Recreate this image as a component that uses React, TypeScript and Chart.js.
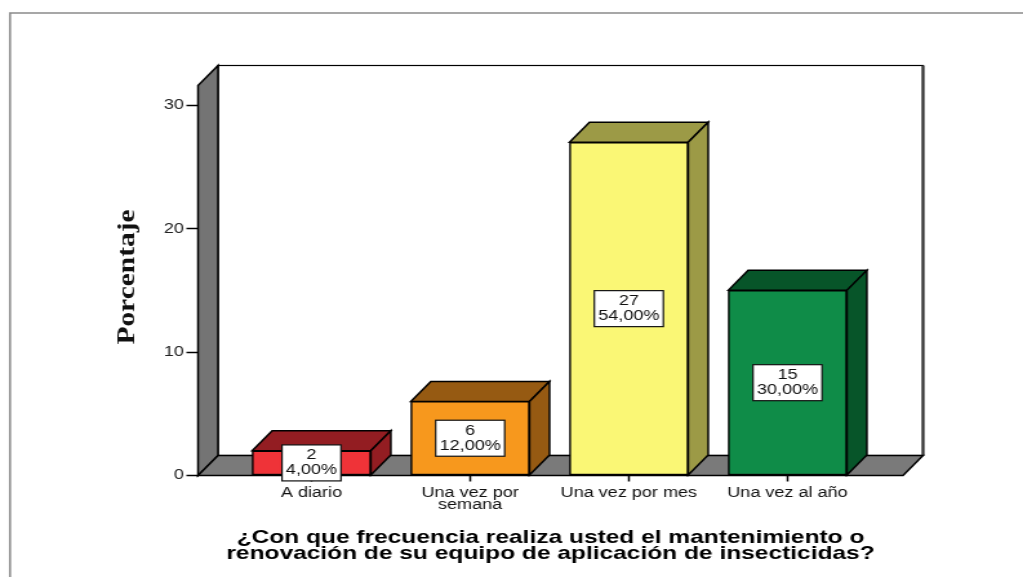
import React, { useEffect, useRef } from "react";
import { Chart, registerables } from "chart.js";

Chart.register(...registerables);

// ---- data ----
const CATEGORY_LABELS: (string | string[])[] = [
  "A diario",
  ["Una vez por", "semana"],
  "Una vez por mes",
  "Una vez al año",
];
const COUNTS: number[] = [2, 6, 27, 15];
const Y_TICKS: number[] = [0, 10, 20, 30];
const Y_TITLE = "Porcentaje";
const X_TITLE: string[] = [
  "¿Con que frecuencia realiza usted el mantenimiento o",
  "renovación de su equipo de aplicación de insecticidas?",
];

// ---- styles ----
const FRONT_COLORS = ["#ef3338", "#f7981d", "#faf775", "#0f8c48"];
const DARK_COLORS = ["#931d22", "#965a12", "#9c9a46", "#075529"];

const S = 1.29; // horizontal stretch of the picture
const W_SCREEN = 1023;
const H = 577;
const LW = Math.round(W_SCREEN / S);
const DX = 20 / S;
const DY = 20;
const Y_MAX = 31.6;

const TOTAL = COUNTS.reduce((a, b) => a + b, 0);
const pctText = (v: number) => ((v / TOTAL) * 100).toFixed(2).replace(".", ",") + "%";

const poly = (ctx: CanvasRenderingContext2D, pts: number[][], fill: string, stroke = "#000", lw = 1.5) => {
  ctx.beginPath();
  ctx.moveTo(pts[0][0], pts[0][1]);
  for (let i = 1; i < pts.length; i++) ctx.lineTo(pts[i][0], pts[i][1]);
  ctx.closePath();
  ctx.fillStyle = fill;
  ctx.fill();
  ctx.lineWidth = lw;
  ctx.strokeStyle = stroke;
  ctx.lineJoin = "miter";
  ctx.stroke();
};

const threeD = {
  id: "threeD",
  beforeDraw(chart: any) {
    const ctx = chart.ctx as CanvasRenderingContext2D;
    ctx.save();
    ctx.fillStyle = "#fff";
    ctx.fillRect(0, 0, chart.width, chart.height);
    ctx.strokeStyle = "#8a8a8a";
    ctx.lineWidth = 1.6;
    ctx.beginPath();
    ctx.moveTo(10 / S, H + 2);
    ctx.lineTo(10 / S, 13);
    ctx.lineTo(chart.width + 2, 13);
    ctx.stroke();
    ctx.restore();
  },
  beforeDatasetsDraw(chart: any) {
    const ctx = chart.ctx as CanvasRenderingContext2D;
    const { left, right, top } = chart.chartArea;
    const y0 = chart.scales.y.getPixelForValue(0);
    ctx.save();
    // back wall
    ctx.fillStyle = "#fff";
    ctx.fillRect(left + DX, top - DY, right - left, y0 - top);
    ctx.strokeStyle = "#000";
    ctx.lineWidth = 1.2;
    ctx.strokeRect(left + DX, top - DY, right - left, y0 - top);
    ctx.strokeStyle = "#333";
    ctx.lineWidth = 2.2;
    ctx.beginPath();
    ctx.moveTo(right + DX, top - DY);
    ctx.lineTo(right + DX, y0 - DY);
    ctx.stroke();
    // left wall
    poly(ctx, [[left, top], [left + DX, top - DY], [left + DX, y0 - DY], [left, y0]], "#747474");
    // floor
    poly(ctx, [[left, y0], [right, y0], [right + DX, y0 - DY], [left + DX, y0 - DY]], "#7a7a7a");
    // bar tops and sides
    const meta = chart.getDatasetMeta(0);
    meta.data.forEach((el: any, i: number) => {
      const { x, y, base, width } = el.getProps(["x", "y", "base", "width"], true);
      const l = x - width / 2;
      const r = x + width / 2;
      poly(ctx, [[l, y], [l + DX, y - DY], [r + DX, y - DY], [r, y]], DARK_COLORS[i]);
      poly(ctx, [[r, y], [r + DX, y - DY], [r + DX, base - DY], [r, base]], DARK_COLORS[i]);
    });
    ctx.restore();
  },
  afterDatasetsDraw(chart: any) {
    const ctx = chart.ctx as CanvasRenderingContext2D;
    const meta = chart.getDatasetMeta(0);
    ctx.save();
    ctx.font = '14px "Liberation Sans", Arial, sans-serif';
    ctx.textAlign = "center";
    ctx.textBaseline = "middle";
    meta.data.forEach((el: any, i: number) => {
      const { x, y, base } = el.getProps(["x", "y", "base"], true);
      const lines = [String(COUNTS[i]), pctText(COUNTS[i])];
      const tw = Math.max(...lines.map((t) => ctx.measureText(t).width));
      const bw = tw + 6;
      const bh = 36;
      const cy = (y + base) / 2;
      ctx.fillStyle = "#fff";
      ctx.fillRect(x - bw / 2, cy - bh / 2, bw, bh);
      ctx.strokeStyle = "#111";
      ctx.lineWidth = 1.2;
      ctx.strokeRect(x - bw / 2, cy - bh / 2, bw, bh);
      ctx.fillStyle = "#111";
      ctx.fillText(lines[0], x, cy - 7.5);
      ctx.fillText(lines[1], x, cy + 7.5);
    });
    // y axis title
    ctx.translate(99, 277);
    ctx.rotate(-Math.PI / 2);
    ctx.scale(1.55, 1);
    ctx.font = 'bold 19px "Liberation Serif", "Times New Roman", serif';
    ctx.fillStyle = "#111";
    ctx.fillText(Y_TITLE, 0, 0);
    ctx.restore();
  },
};

export default function App() {
  const ref = useRef<HTMLCanvasElement | null>(null);
  useEffect(() => {
    if (!ref.current) return;
    const chart = new Chart(ref.current, {
      type: "bar",
      data: {
        datasets: [
          {
            data: COUNTS.map((v, i) => ({ x: i, y: v })),
            backgroundColor: FRONT_COLORS,
            borderColor: "#000",
            borderWidth: 1.5,
            borderSkipped: false,
            barThickness: 92,
          },
        ],
      },
      options: {
        animation: false,
        responsive: false,
        devicePixelRatio: 1,
        layout: { padding: { left: 0, right: LW - 700, top: 85.5, bottom: 0 } },
        plugins: { legend: { display: false }, tooltip: { enabled: false }, title: { display: false } },
        scales: {
          x: {
            type: "linear",
            min: -0.715,
            max: 3.728,
            offset: false,
            grid: { display: true, drawOnChartArea: false, offset: false, tickLength: 6, tickColor: "#000", tickWidth: 1.5 },
            border: { display: false },
            afterBuildTicks: (scale: any) => {
              scale.ticks = CATEGORY_LABELS.map((_, i) => ({ value: i }));
            },
            afterFit: (scale: any) => {
              scale.height = H - 475.5;
            },
            ticks: {
              autoSkip: false,
              maxRotation: 0,
              minRotation: 0,
              padding: 5,
              color: "#111",
              font: { family: '"Liberation Sans", Arial, sans-serif', size: 14, lineHeight: 0.88 },
              callback: (v: any) => CATEGORY_LABELS[Math.round(Number(v))] as any,
            },
            title: {
              display: true,
              text: X_TITLE,
              color: "#000",
              font: { family: '"Liberation Sans", Arial, sans-serif', size: 19, weight: "bold", lineHeight: 16 / 19 },
              padding: { top: 0, bottom: 15 },
            },
          },
          y: {
            type: "linear",
            min: 0,
            max: Y_MAX,
            grid: { display: true, drawOnChartArea: false, tickLength: 9, tickColor: "#000", tickWidth: 1.5 },
            border: { display: false },
            afterBuildTicks: (scale: any) => {
              scale.ticks = Y_TICKS.map((v) => ({ value: v }));
            },
            afterFit: (scale: any) => {
              scale.width = 153.5;
            },
            ticks: {
              padding: 2,
              color: "#222",
              font: { family: '"Liberation Sans", Arial, sans-serif', size: 14 },
            },
          },
        },
      },
      plugins: [threeD],
    } as any);
    return () => chart.destroy();
  }, []);
  return (
    <div style={{ position: "fixed", left: 0, top: 0, width: W_SCREEN, height: H, background: "#fff" }}>
      <canvas ref={ref} width={LW} height={H} style={{ width: W_SCREEN + "px", height: H + "px", display: "block" }} />
    </div>
  );
}
